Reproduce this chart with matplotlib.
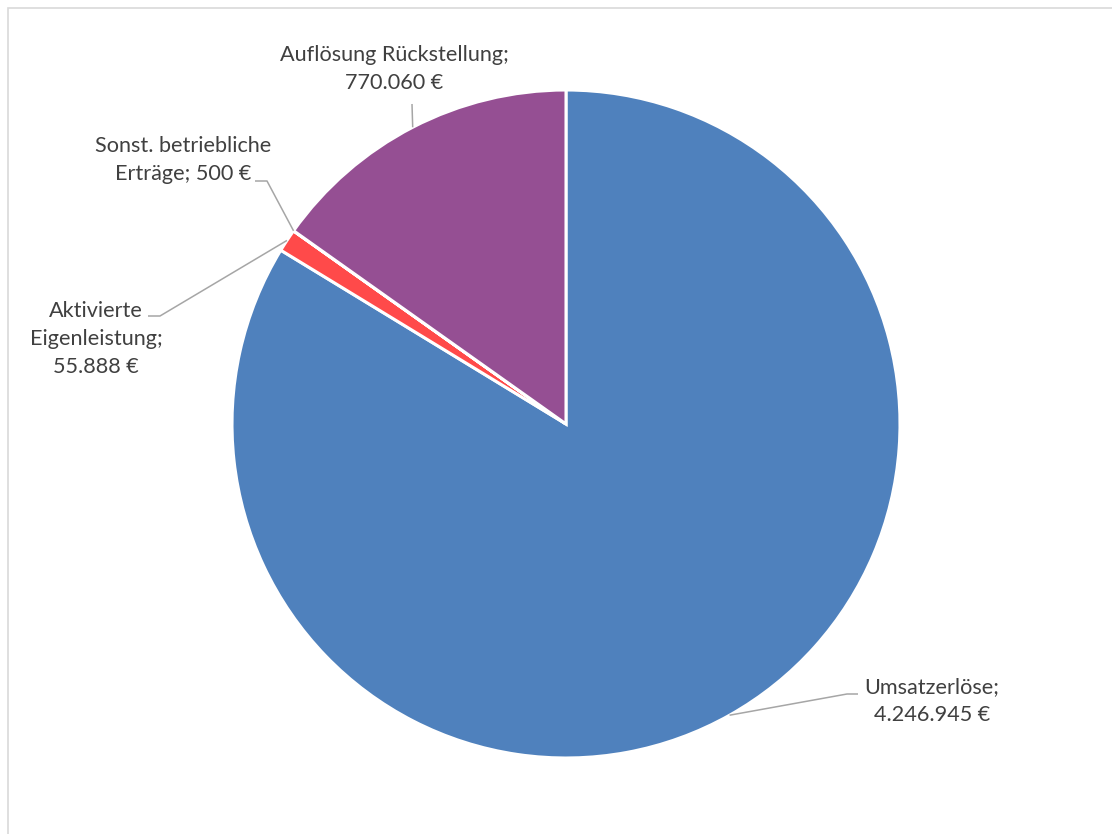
import numpy as np
import matplotlib.pyplot as plt
from matplotlib.patches import Rectangle

# data
labels = ['Umsatzerlöse', 'Aktivierte Eigenleistung', 'Sonst. betriebliche Erträge', 'Auflösung Rückstellung']
values = [4246945, 55888, 500, 770060]
label_texts = ['Umsatzerlöse;\n4.246.945 €',
               'Aktivierte\nEigenleistung;\n55.888 €',
               'Sonst. betriebliche\nErträge; 500 €',
               'Auflösung Rückstellung;\n770.060 €']
colors = ['#4f81bd', '#ff4a4a', '#c0504d', '#954f93']

W, H = 1112, 834
fig = plt.figure(figsize=(W / 100, H / 100), dpi=100)
ax = fig.add_axes([0, 0, 1, 1])

cx, cy, r = 566, H - 424, 334
wedges, _ = ax.pie(values, startangle=90, counterclock=False, colors=colors,
                   radius=r, center=(cx, cy),
                   wedgeprops=dict(edgecolor='white', linewidth=2.2))
ax.set_xlim(0, W)
ax.set_ylim(0, H)
ax.axis('off')

# label layout (pixel coords from top): text center, elbow, end of horizontal stub
layout = [
    dict(text=(932, 701), elbow=(847, 694), stub=(858, 694)),
    dict(text=(96, 339), elbow=(160, 316), stub=(148, 316)),
    dict(text=(183, 160), elbow=(267, 181), stub=(255, 181)),
    dict(text=(394, 69), elbow=(412, 104), stub=None),
]

txt_color = '#404040'
line_color = '#a6a6a6'
for w, txt, lay in zip(wedges, label_texts, layout):
    mid = np.deg2rad((w.theta1 + w.theta2) / 2)
    px, py = cx + r * np.cos(mid), cy + r * np.sin(mid)
    ex, ey = lay['elbow'][0], H - lay['elbow'][1]
    xs, ys = [px, ex], [py, ey]
    if lay['stub'] is not None:
        xs.append(lay['stub'][0])
        ys.append(H - lay['stub'][1])
    ax.plot(xs, ys, color=line_color, lw=1.1, solid_capstyle='butt')
    ax.text(lay['text'][0], H - lay['text'][1], txt, ha='center', va='center',
            fontsize=15.6, color=txt_color, family='Lato', linespacing=1.52)

# chart border
fig.add_artist(Rectangle((7.5 / W, -0.1), 1.2, (H - 7.5) / H + 0.1,
                         transform=fig.transFigure, fill=False,
                         edgecolor='#d9d9d9', lw=1.2))

fig.savefig('out.png', dpi=100)
